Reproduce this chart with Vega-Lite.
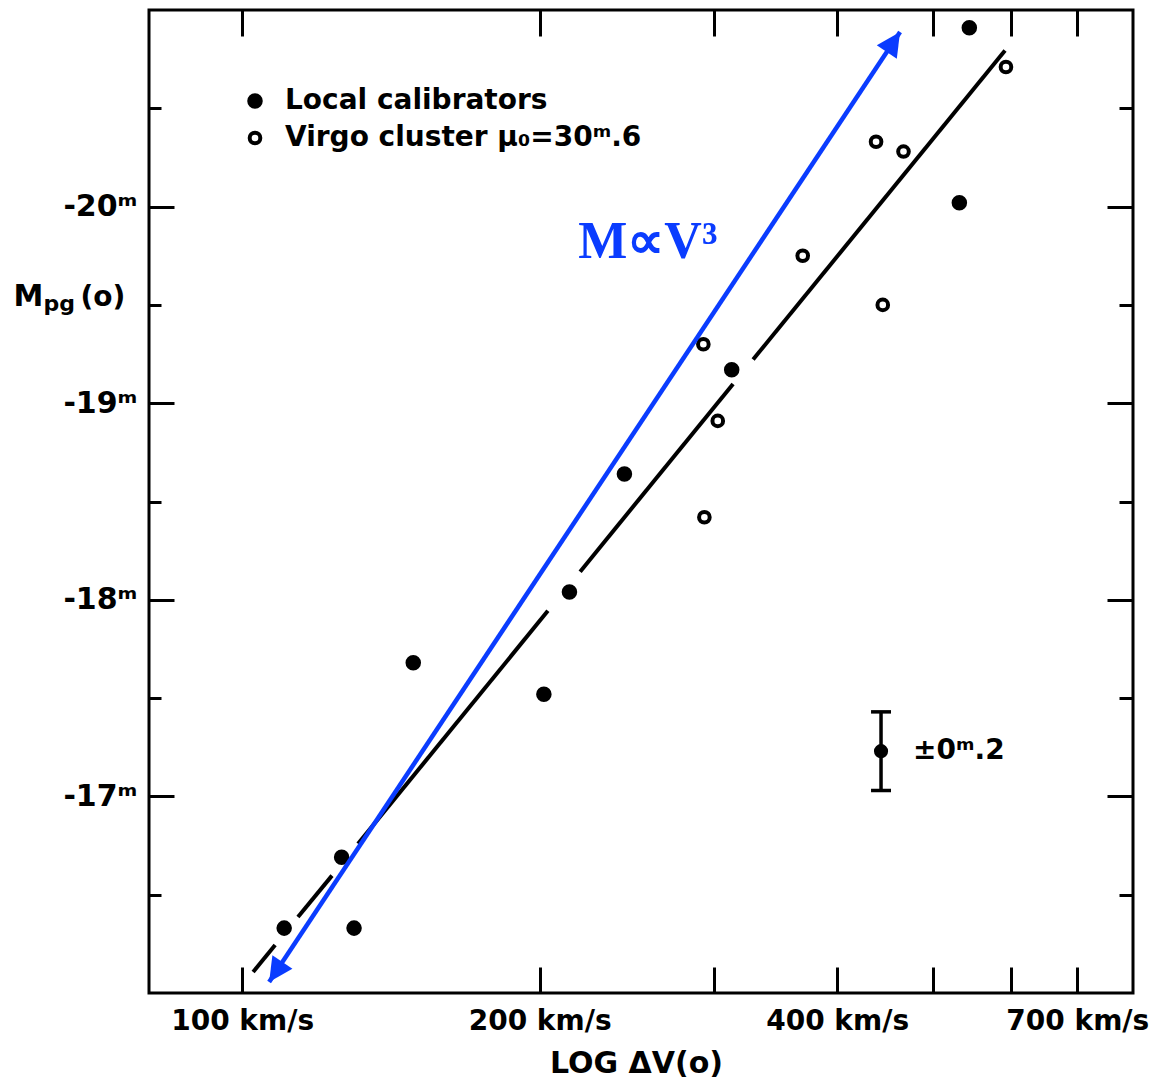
{
  "$schema": "https://vega.github.io/schema/vega-lite/v6.json",
  "width": 984,
  "height": 983,
  "autosize": "none",
  "padding": {"left": 149, "top": 10, "right": 31, "bottom": 87},
  "background": "white",
  "config": {
    "view": {"stroke": "black", "strokeWidth": 3},
    "axis": {
      "domain": false, "grid": false, "ticks": true,
      "tickColor": "black", "tickWidth": 3,
      "labelFont": "DejaVu Sans", "labelFontWeight": "bold", "labelColor": "black",
      "titleFont": "DejaVu Sans", "titleFontWeight": "bold", "titleColor": "black",
      "labelOverlap": false, "labelBound": false, "labelFlush": false
    }
  },
  "datasets": {
    "points": [
      {"v": 110.3, "M": -16.33, "group": "Local calibrators"},
      {"v": 126.1, "M": -16.69, "group": "Local calibrators"},
      {"v": 129.8, "M": -16.33, "group": "Local calibrators"},
      {"v": 149.0, "M": -17.68, "group": "Local calibrators"},
      {"v": 202.0, "M": -17.52, "group": "Local calibrators"},
      {"v": 214.4, "M": -18.04, "group": "Local calibrators"},
      {"v": 243.7, "M": -18.64, "group": "Local calibrators"},
      {"v": 312.9, "M": -19.17, "group": "Local calibrators"},
      {"v": 531.8, "M": -20.02, "group": "Local calibrators"},
      {"v": 544.3, "M": -20.91, "group": "Local calibrators"},
      {"v": 292.9, "M": -19.30, "group": "Virgo cluster μ₀=30ᵐ.6"},
      {"v": 293.6, "M": -18.42, "group": "Virgo cluster μ₀=30ᵐ.6"},
      {"v": 302.9, "M": -18.91, "group": "Virgo cluster μ₀=30ᵐ.6"},
      {"v": 369.2, "M": -19.75, "group": "Virgo cluster μ₀=30ᵐ.6"},
      {"v": 438.0, "M": -20.33, "group": "Virgo cluster μ₀=30ᵐ.6"},
      {"v": 466.9, "M": -20.28, "group": "Virgo cluster μ₀=30ᵐ.6"},
      {"v": 444.9, "M": -19.50, "group": "Virgo cluster μ₀=30ᵐ.6"},
      {"v": 592.8, "M": -20.71, "group": "Virgo cluster μ₀=30ᵐ.6"}
    ],
    "fit": [
      {"seg": 1, "v": 102.6, "M": -16.107},
      {"seg": 1, "v": 108.0, "M": -16.244},
      {"seg": 2, "v": 113.9, "M": -16.387},
      {"seg": 2, "v": 123.3, "M": -16.597},
      {"seg": 3, "v": 131.0, "M": -16.759},
      {"seg": 3, "v": 203.9, "M": -17.944},
      {"seg": 4, "v": 219.8, "M": -18.143},
      {"seg": 4, "v": 313.9, "M": -19.098},
      {"seg": 5, "v": 328.9, "M": -19.222},
      {"seg": 5, "v": 591.5, "M": -20.794}
    ],
    "arrow": [
      {"v": 106.5, "M": -16.056, "end": "tail"},
      {"v": 463.2, "M": -20.888, "end": "head"}
    ],
    "note": [
      {"v": 257.4, "M": -19.74, "label": "M∝V³"}
    ],
    "err": [
      {"v": 443.1, "M": -17.23, "lo": -17.43, "hi": -17.03, "label": "±0ᵐ.2"}
    ]
  },
  "resolve": {"axis": {"x": "independent", "y": "independent"}},
  "encoding": {
    "x": {"field": "v", "type": "quantitative", "scale": {"type": "log", "domain": [80.5, 797], "nice": false}, "axis": null},
    "y": {"field": "M", "type": "quantitative", "scale": {"domain": [-21, -16], "reverse": true, "nice": false, "zero": false}, "axis": null}
  },
  "layer": [
    {
      "data": {"name": "fit"},
      "mark": {"type": "line", "color": "black", "strokeWidth": 4, "strokeCap": "butt"},
      "encoding": {
        "x": {"field": "v", "type": "quantitative", "scale": {"type": "log", "domain": [80.5, 797], "nice": false},
          "axis": {"orient": "top", "values": [100, 200, 300, 400, 500, 600, 700], "tickSize": -26, "labels": false,
            "title": "(o)", "titleAngle": 0, "titleX": -69, "titleY": 295, "titleAlign": "left", "titleBaseline": "alphabetic", "titleFontSize": 28}},
        "y": {"field": "M", "type": "quantitative", "scale": {"domain": [-21, -16], "reverse": true, "nice": false, "zero": false},
          "axis": {"orient": "right", "values": [-20.5, -20, -19.5, -19, -18.5, -18, -17.5, -17, -16.5],
            "tickSize": {"condition": {"test": "datum.value % 1 == 0", "value": -26}, "value": -14}, "labels": false,
            "title": "pg", "titleAngle": 0, "titleX": -1090, "titleY": 300, "titleAlign": "left", "titleBaseline": "alphabetic", "titleFontSize": 22}},
        "detail": {"field": "seg", "type": "nominal"}
      }
    },
    {
      "data": {"name": "points"},
      "mark": {"type": "point", "shape": "circle", "filled": true, "stroke": "black", "strokeWidth": 4, "opacity": 1},
      "encoding": {
        "x": {"field": "v", "type": "quantitative", "scale": {"type": "log", "domain": [80.5, 797], "nice": false},
          "axis": {"orient": "bottom", "values": [100, 200, 300, 400, 500, 600, 700], "tickSize": -26,
            "labelExpr": "(datum.value == 100 || datum.value == 200 || datum.value == 400 || datum.value == 700) ? datum.value + ' km/s' : ''",
            "labelFontSize": 28, "labelPadding": 40,
            "title": "LOG ΔV(o)", "titleFontSize": 30, "titleX": 487, "titleY": 79, "titleAlign": "center", "titleBaseline": "alphabetic"}},
        "y": {"field": "M", "type": "quantitative", "scale": {"domain": [-21, -16], "reverse": true, "nice": false, "zero": false},
          "axis": {"orient": "left", "values": [-20.5, -20, -19.5, -19, -18.5, -18, -17.5, -17, -16.5],
            "tickSize": {"condition": {"test": "datum.value % 1 == 0", "value": -25}, "value": -12},
            "labelExpr": "datum.value % 1 == 0 ? '-' + format(-datum.value, 'd') + 'ᵐ' : ''",
            "labelFontSize": 30, "labelPadding": 37,
            "title": "M", "titleAngle": 0, "titleX": -136, "titleY": 295, "titleAlign": "left", "titleBaseline": "alphabetic", "titleFontSize": 30}},
        "fill": {"field": "group", "type": "nominal",
          "scale": {"domain": ["Local calibrators", "Virgo cluster μ₀=30ᵐ.6"], "range": ["black", "white"]},
          "legend": {"orient": "none", "legendX": 92, "legendY": 77, "title": null, "padding": 0,
            "labelFontSize": 28, "labelFont": "DejaVu Sans", "labelFontWeight": "bold", "labelColor": "black", "labelLimit": 0,
            "symbolStrokeColor": "black", "symbolStrokeWidth": 4, "symbolType": "circle", "rowPadding": 9, "labelOffset": 16}},
        "size": {"field": "group", "type": "nominal",
          "scale": {"domain": ["Local calibrators", "Virgo cluster μ₀=30ᵐ.6"], "range": [133, 113]}}
      }
    },
    {
      "data": {"name": "arrow"},
      "mark": {"type": "line", "color": "#0a3cff", "strokeWidth": 4.5, "strokeCap": "butt"}
    },
    {
      "data": {"name": "arrow"},
      "transform": [{"filter": "datum.end == 'head'"}],
      "mark": {"type": "point", "shape": "M0,0L1,2L-1,2Z", "filled": true, "color": "#0a3cff", "opacity": 1, "size": 576, "angle": 33.6}
    },
    {
      "data": {"name": "arrow"},
      "transform": [{"filter": "datum.end == 'tail'"}],
      "mark": {"type": "point", "shape": "M0,0L1,2L-1,2Z", "filled": true, "color": "#0a3cff", "opacity": 1, "size": 576, "angle": 213.6}
    },
    {
      "data": {"name": "note"},
      "mark": {"type": "text", "font": "Liberation Serif", "fontWeight": "bold", "fontSize": 52, "color": "#0a3cff", "align": "center", "baseline": "alphabetic"},
      "encoding": {"text": {"field": "label"}}
    },
    {
      "data": {"name": "err"},
      "mark": {"type": "rule", "color": "black", "strokeWidth": 3.5},
      "encoding": {
        "y": {"field": "lo", "type": "quantitative", "scale": {"domain": [-21, -16], "reverse": true, "nice": false, "zero": false}, "axis": null},
        "y2": {"field": "hi"}
      }
    },
    {
      "data": {"name": "err"},
      "mark": {"type": "tick", "orient": "horizontal", "color": "black", "size": 20, "thickness": 3.5, "opacity": 1},
      "encoding": {
        "y": {"field": "lo", "type": "quantitative", "scale": {"domain": [-21, -16], "reverse": true, "nice": false, "zero": false}, "axis": null}
      }
    },
    {
      "data": {"name": "err"},
      "mark": {"type": "tick", "orient": "horizontal", "color": "black", "size": 20, "thickness": 3.5, "opacity": 1},
      "encoding": {
        "y": {"field": "hi", "type": "quantitative", "scale": {"domain": [-21, -16], "reverse": true, "nice": false, "zero": false}, "axis": null}
      }
    },
    {
      "data": {"name": "err"},
      "mark": {"type": "point", "shape": "circle", "filled": true, "color": "black", "opacity": 1, "size": 200}
    },
    {
      "data": {"name": "err"},
      "mark": {"type": "text", "font": "DejaVu Sans", "fontWeight": "bold", "fontSize": 28, "color": "black", "align": "left", "baseline": "middle", "dx": 32},
      "encoding": {"text": {"field": "label"}}
    }
  ]
}
